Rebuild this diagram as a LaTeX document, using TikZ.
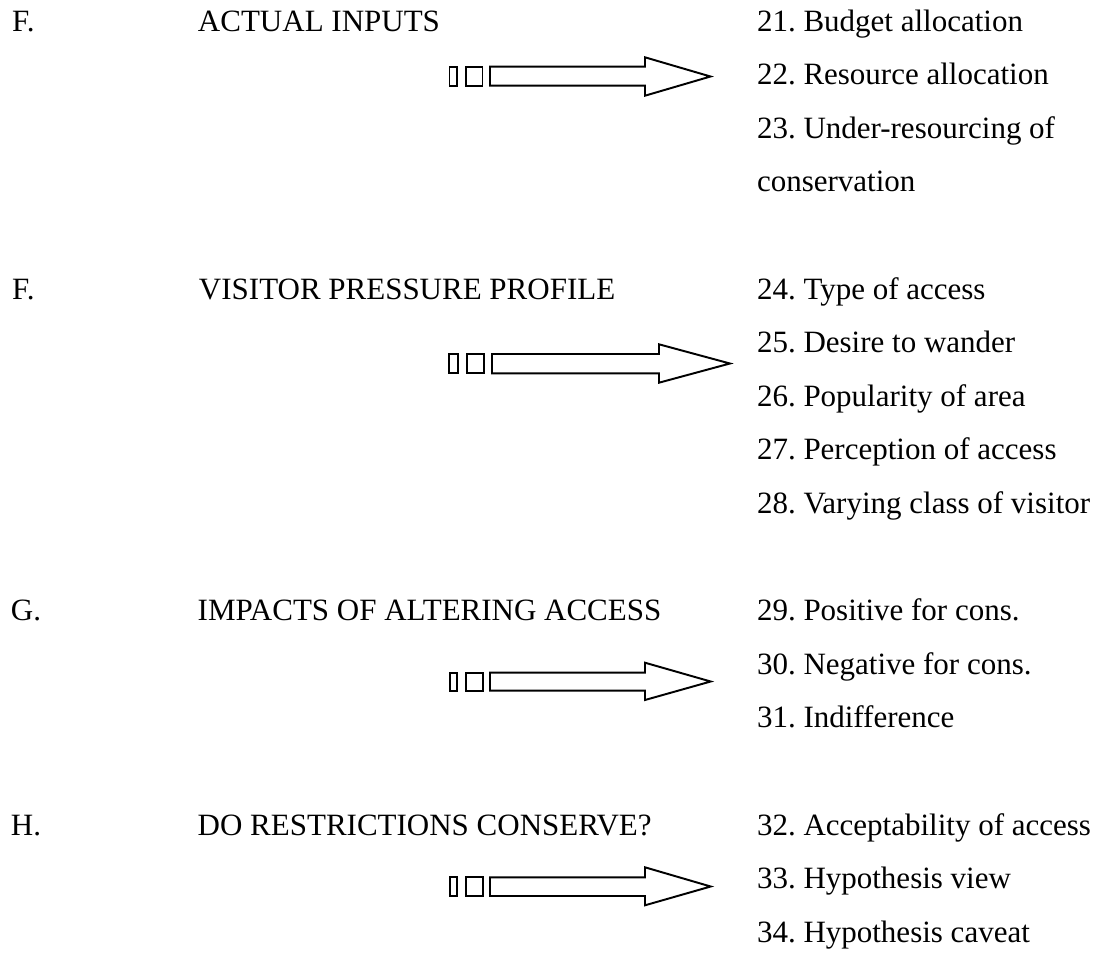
\documentclass[tikz,border=0pt]{standalone}
\usepackage{fontspec}
\setmainfont{Liberation Serif}
\frenchspacing
\begin{document}
\begin{tikzpicture}[x=0.3871pt,y=-0.3871pt,
  txt/.style={anchor=base west,inner sep=0pt,outer sep=0pt,font=\fontsize{12pt}{14pt}\selectfont},
  shp/.style={draw=black,line width=0.75pt,fill=white,line join=miter}]
\useasboundingbox (0,0) rectangle (1101,953);
% left column
\node[txt] (lF1) at (12,31) {F.};
\node[txt] (hA) at (198,31) {ACTUAL INPUTS};
\node[txt] (lF2) at (12,299) {F.};
\node[txt] (hB) at (199,299) {VISITOR PRESSURE PROFILE};
\node[txt] (lG) at (11,620.6) {G.};
\node[txt] (hC) at (197.7,620.6) {IMPACTS OF ALTERING ACCESS};
\node[txt] (lH) at (11,835) {H.};
\node[txt] (hD) at (197.7,835) {DO RESTRICTIONS CONSERVE?};
% right column
\node[txt] (i21) at (757,31) {21. Budget allocation};
\node[txt] (i22) at (757,84.6) {22. Resource allocation};
\node[txt] (i23) at (757,138.2) {23. Under-resourcing of};
\node[txt] (i23b) at (757,191.8) {conservation};
\node[txt] (i24) at (757,299) {24. Type of access};
\node[txt] (i25) at (757,352.6) {25. Desire to wander};
\node[txt] (i26) at (757,406.2) {26. Popularity of area};
\node[txt] (i27) at (757,459.8) {27. Perception of access};
\node[txt] (i28) at (757,513.4) {28. Varying class of visitor};
\node[txt] (i29) at (757,620.6) {29. Positive for cons.};
\node[txt] (i30) at (757,674.2) {30. Negative for cons.};
\node[txt] (i31) at (757,727.8) {31. Indifference};
\node[txt] (i32) at (757,835) {32. Acceptability of access};
\node[txt] (i33) at (757,888.6) {33. Hypothesis view};
\node[txt] (i34) at (757,942.2) {34. Hypothesis caveat};
% block arrows
% arrow 1
\draw[shp] (449.5,66.7) rectangle (457.3,85.7);
\draw[shp] (466,66.7) rectangle (482.5,85.7);
\draw[shp] (490,66.7) -- (645,66.7) -- (645,57.3) -- (710.5,76.5) -- (645,95.7) -- (645,85.7) -- (490,85.7) -- cycle;
% arrow 2
\draw[shp] (449,354) rectangle (458,373.3);
\draw[shp] (467,354) rectangle (484,373.3);
\draw[shp] (492,354) -- (659,354) -- (659,344.3) -- (730,363.5) -- (659,382.7) -- (659,373.3) -- (492,373.3) -- cycle;
% arrow 3
\draw[shp] (450,672.7) rectangle (457.3,690.7);
\draw[shp] (466,672.7) rectangle (482.7,690.7);
\draw[shp] (490,672.7) -- (645,672.7) -- (645,662.7) -- (710.7,681.5) -- (645,700) -- (645,690.7) -- (490,690.7) -- cycle;
% arrow 4
\draw[shp] (450,877.3) rectangle (457.3,896);
\draw[shp] (466,877.3) rectangle (482.7,896);
\draw[shp] (490,877.3) -- (645,877.3) -- (645,867.3) -- (710.7,886.5) -- (645,905.3) -- (645,896) -- (490,896) -- cycle;
\end{tikzpicture}
\end{document}
